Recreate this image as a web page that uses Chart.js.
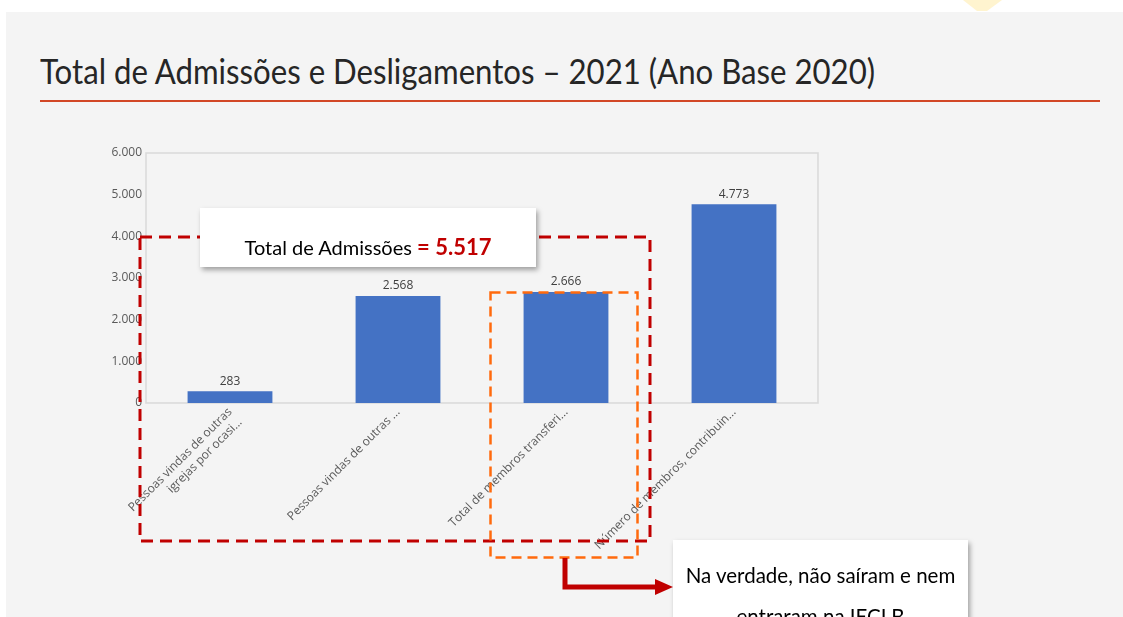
<!DOCTYPE html>
<html>
<head>
<meta charset="utf-8">
<script src="https://cdn.jsdelivr.net/npm/chart.js@4/dist/chart.umd.min.js"></script>
<style>
  html, body { margin: 0; padding: 0; background: #ffffff; }
  body { width: 1123px; height: 617px; position: relative; overflow: hidden; }
  .slide { position: absolute; left: 6px; top: 12px; width: 1117px; height: 605px; background: #f4f4f4; }
  .title {
    position: absolute; left: 40px; top: 49px; white-space: nowrap;
    font-family: Lato, "Open Sans", sans-serif; font-weight: 400; font-size: 35px;
    color: #262626; transform-origin: 0 0;
  }
  .rule { position: absolute; left: 40px; top: 100px; width: 1060px; height: 2px; background: #d24726; }
  #wrap { position: absolute; left: 90px; top: 140px; width: 740px; height: 430px; }
  svg.over { position: absolute; left: 0; top: 0; }
  .box {
    position: absolute; background: #ffffff; box-shadow: 2px 3px 5px rgba(0,0,0,0.35);
    font-family: Lato, "Open Sans", sans-serif; color: #000000; text-align: center;
  }
  .box1 { left: 200px; top: 208px; width: 336px; height: 59px; font-size: 20px; line-height: 20px; }
  .box1 span.t { position: absolute; left: 0; right: 0; top: 29px; }
  .box1 b { color: #c00000; font-size: 22px; }
  .box2 { left: 673px; top: 540px; width: 295px; height: 100px; font-size: 20.5px; line-height: 41px; padding-top: 15px; }
</style>
</head>
<body>
<div class="slide"></div>
<svg class="over" width="1123" height="617">
  <polygon points="963,0 1002,0 987,11 977,11" fill="#fff4cf"/>
</svg>
<div class="title" id="title">Total de Admissões e Desligamentos – 2021 (Ano Base 2020)</div>
<div class="rule"></div>
<div id="wrap"><canvas id="admChart" width="740" height="430"></canvas></div>
<svg class="over" width="1123" height="617">
  <rect x="140" y="237" width="510" height="304" fill="none" stroke="#c00000" stroke-width="3" stroke-dasharray="12 7"/>
  <rect x="490.5" y="292.5" width="147" height="265" fill="none" stroke="#ff6a0d" stroke-width="2.5" stroke-dasharray="10 6"/>
  <polyline points="565,558 565,587 657,587" fill="none" stroke="#c00000" stroke-width="5"/>
  <polygon points="655,579 673,587 655,595" fill="#c00000"/>
</svg>
<div class="box box1"><span class="t">Total de Admissões <b>= 5.517</b></span></div>
<div class="box box2">Na verdade, não saíram e nem<br>entraram na IECLB</div>

<script>
/*==============================================================
    DATA
==============================================================*/
const categories = [
    ["Pessoas vindas de outras", "igrejas por ocasi..."],
    "Pessoas vindas de outras ...",
    "Total de membros transferi...",
    "Número de membros, contribuin..."
];
const values = [283, 2568, 2666, 4773];
const yTicks = [0, 1000, 2000, 3000, 4000, 5000, 6000];

/*==============================================================
    HELPERS
==============================================================*/
function fmt(n) {
    return n.toLocaleString("pt-BR");
}

function fitTitle() {
    const el = document.getElementById("title");
    const target = 835;
    el.style.transform = "scaleX(" + (target / el.offsetWidth) + ")";
}

/*==============================================================
    PLUGINS
==============================================================*/
const plotBorder = {
    id: "plotBorder",
    beforeDraw(chart) {
        const a = chart.chartArea;
        const ctx = chart.ctx;
        ctx.save();
        ctx.strokeStyle = "#d9d9d9";
        ctx.lineWidth = 1.5;
        ctx.strokeRect(a.left, a.top, a.right - a.left, a.bottom - a.top);
        ctx.restore();
    }
};

const barLabels = {
    id: "barLabels",
    afterDatasetsDraw(chart) {
        const ctx = chart.ctx;
        const meta = chart.getDatasetMeta(0);
        ctx.save();
        ctx.font = "12px 'Open Sans'";
        ctx.fillStyle = "#404040";
        ctx.textAlign = "center";
        ctx.textBaseline = "bottom";
        meta.data.forEach(function (bar, i) {
            ctx.fillText(fmt(values[i]), bar.x, bar.y - 4);
        });
        ctx.restore();
    }
};

/*==============================================================
    CHART
==============================================================*/
function admissionsChart() {
    const ctx = document.getElementById("admChart");
    if (!ctx) return;
    new Chart(ctx, {
        type: "bar",
        data: {
            labels: categories,
            datasets: [{
                data: values,
                backgroundColor: "#4472c4",
                barPercentage: 0.505,
                categoryPercentage: 1
            }]
        },
        options: {
            responsive: false,
            animation: false,
            layout: { padding: { top: 13, right: 12, left: 0, bottom: 0 } },
            plugins: {
                legend: { display: false },
                tooltip: { enabled: false }
            },
            scales: {
                y: {
                    min: 0,
                    max: 6000,
                    afterBuildTicks: function (scale) {
                        scale.ticks = yTicks.map(function (v) { return { value: v }; });
                    },
                    afterFit: function (scale) { scale.width = 56; },
                    grid: { display: false, drawTicks: false },
                    border: { display: false },
                    ticks: {
                        padding: 4,
                        color: "#595959",
                        font: { family: "Open Sans", size: 12 },
                        callback: function (v) { return fmt(v); }
                    }
                },
                x: {
                    afterFit: function (scale) { scale.height = 167; },
                    grid: { display: false, drawTicks: false },
                    border: { display: false },
                    ticks: {
                        autoSkip: false,
                        maxRotation: 45,
                        minRotation: 45,
                        padding: 2,
                        color: "#595959",
                        font: { family: "Open Sans", size: 12 }
                    }
                }
            }
        },
        plugins: [plotBorder, barLabels]
    });
}

document.fonts.ready.then(function () {
    fitTitle();
    admissionsChart();
});
</script>
</body>
</html>
